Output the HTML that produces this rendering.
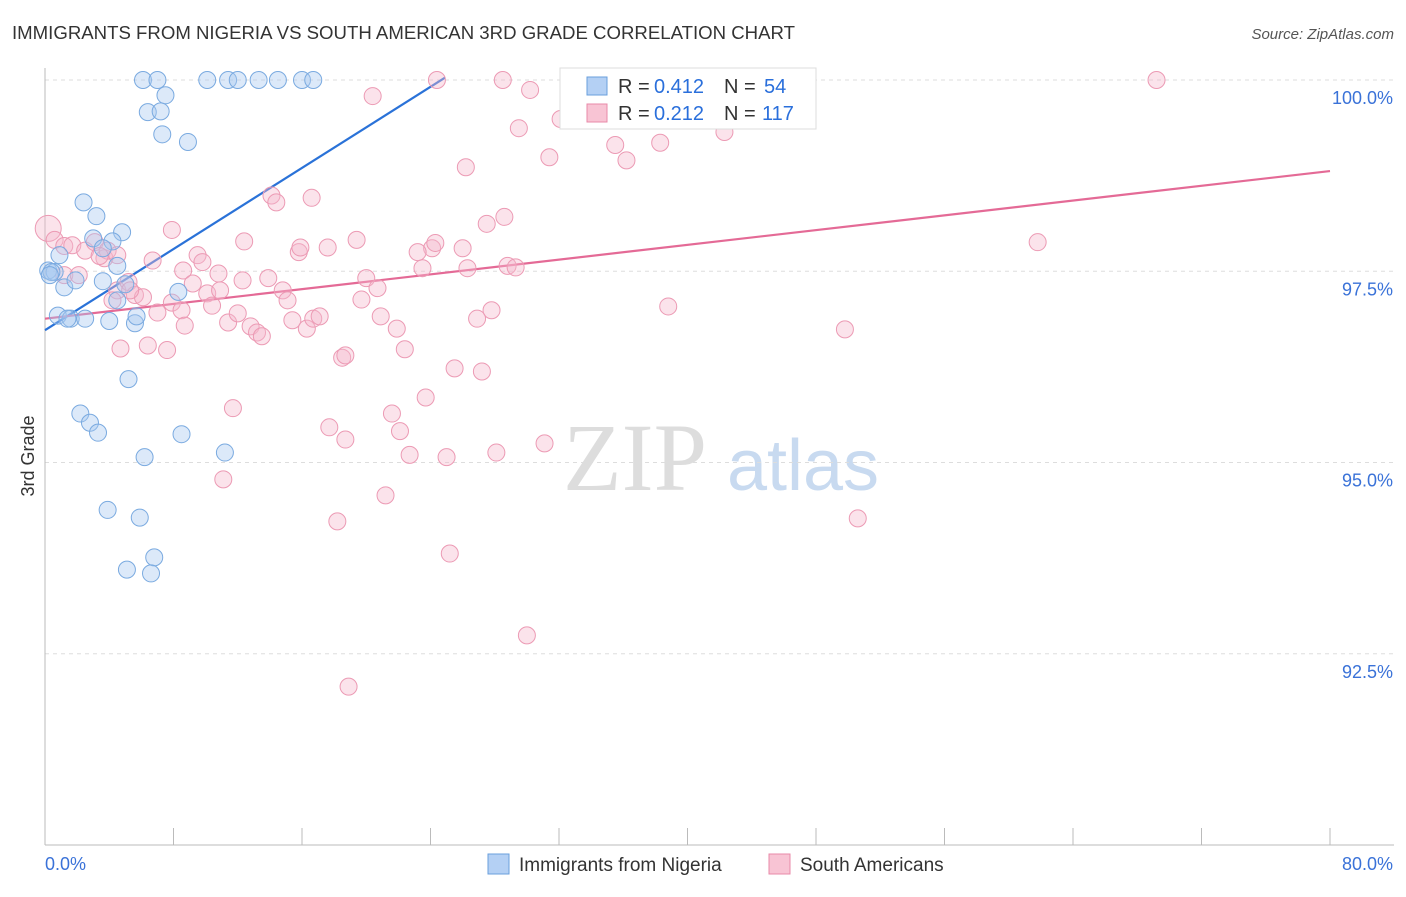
<!DOCTYPE html>
<html><head><meta charset="utf-8"><style>
body{margin:0;background:#fff;font-family:"Liberation Sans",sans-serif;}
</style></head><body>
<svg id="chart" width="1406" height="892" xmlns="http://www.w3.org/2000/svg" font-family="Liberation Sans, sans-serif">
<text x="12" y="39" font-size="18" fill="#333" textLength="783" lengthAdjust="spacingAndGlyphs">IMMIGRANTS FROM NIGERIA VS SOUTH AMERICAN 3RD GRADE CORRELATION CHART</text>
<text x="1394" y="39" font-size="15" fill="#555" text-anchor="end" font-style="italic">Source: ZipAtlas.com</text>
<text x="34" y="456" font-size="18" fill="#333" text-anchor="middle" transform="rotate(-90 34 456)">3rd Grade</text>
<g font-size="96" text-anchor="middle">
<text x="635" y="490" fill="#ddd" font-family="Liberation Serif, serif">ZIP</text>
<text x="803" y="490" fill="#c8daf0" font-size="72">atlas</text></g>
<g id="grid"></g><g id="axes"></g><g id="lines"></g><g id="pts"></g>
<g>
<rect x="560" y="68" width="256" height="61" fill="#fff" stroke="#ddd"/>
<rect x="587" y="77" width="20" height="18" fill="#b4d0f4" stroke="#6a9fdc"/>
<text y="93" font-size="20" fill="#333"><tspan x="618">R =</tspan><tspan x="654" fill="#2a6fdb">0.412</tspan><tspan x="724">N =</tspan><tspan x="764" fill="#2a6fdb">54</tspan></text>
<rect x="587" y="104" width="20" height="18" fill="#f8c4d4" stroke="#e88aa8"/>
<text y="120" font-size="20" fill="#333"><tspan x="618">R =</tspan><tspan x="654" fill="#2a6fdb">0.212</tspan><tspan x="724">N =</tspan><tspan x="762" fill="#2a6fdb">117</tspan></text>
</g>
<g>
<rect x="488" y="854" width="21" height="20" fill="#b4d0f4" stroke="#6a9fdc"/>
<text x="519" y="871" font-size="19" fill="#333">Immigrants from Nigeria</text>
<rect x="769" y="854" width="21" height="20" fill="#f8c4d4" stroke="#e88aa8"/>
<text x="800" y="871" font-size="19" fill="#333">South Americans</text>
</g>
</svg>
<script>
const xTicks=[0,8,16,24,32,40,48,56,64,72,80];
const yTicks=[92.5,95,97.5,100];
const yTickLabels=["92.5%","95.0%","97.5%","100.0%"];
const xEndLabels=["0.0%","80.0%"];
const nigeriaX=[6.1,7.0,10.1,11.4,12.0,13.3,14.5,16.0,16.7,7.5,6.4,7.2,7.3,8.9,2.4,3.2,4.8,3.0,4.2,3.6,0.9,0.2,0.6,4.5,1.2,1.9,3.6,5.0,8.3,4.5,0.8,1.6,2.5,4.0,5.6,5.7,5.2,2.2,2.8,3.3,8.5,6.2,11.2,3.9,5.9,6.8,5.1,6.6,0.4,1.4,0.3];
const nigeriaY=[100,100,100,100,100,100,100,100,100,99.8,99.58,99.59,99.29,99.19,98.4,98.22,98.01,97.93,97.89,97.8,97.71,97.51,97.49,97.57,97.29,97.38,97.37,97.33,97.23,97.12,96.92,96.88,96.88,96.85,96.82,96.91,96.09,95.64,95.52,95.39,95.37,95.07,95.13,94.38,94.28,93.76,93.6,93.55,97.49,96.88,97.45];
const southX=[0.2,0.6,1.2,1.7,2.5,3.1,3.7,3.9,4.5,1.2,2.1,4.5,5.2,5.6,6.1,4.7,6.4,7.6,7.0,7.9,6.7,8.6,9.2,9.5,9.8,10.1,10.4,10.8,11.4,12.0,12.3,12.4,12.8,13.2,13.5,13.9,14.1,14.4,14.8,15.1,15.4,15.8,15.9,16.3,16.6,16.7,17.1,17.6,18.5,19.4,19.7,20.0,20.4,20.7,20.9,21.9,22.4,23.5,24.1,24.3,23.2,26.0,26.3,26.9,27.5,27.8,28.6,28.8,29.3,29.5,28.5,30.2,31.4,24.4,26.2,32.1,32.6,35.5,36.2,35.8,38.3,40.3,42.2,42.3,38.8,49.8,61.8,69.2,11.7,11.1,17.7,18.7,18.2,21.2,21.6,22.1,22.7,23.7,25.0,25.2,25.5,27.2,28.1,31.1,30.0,18.9,50.6,7.9,8.5,4.2,8.7,5.3,3.4,10.9,18.7];
const southY=[98.06,97.91,97.83,97.84,97.77,97.88,97.67,97.77,97.71,97.45,97.45,97.25,97.36,97.19,97.16,96.49,96.53,96.47,96.96,98.04,97.64,97.51,97.34,97.71,97.62,97.21,97.05,97.47,96.83,96.95,97.38,97.89,96.78,96.7,96.65,97.41,98.49,98.4,97.25,97.12,96.86,97.75,97.81,96.75,98.46,96.88,96.91,97.81,96.37,97.91,97.13,97.41,99.79,97.28,96.91,96.75,96.48,97.54,97.8,97.87,97.75,97.8,97.54,96.88,98.12,96.99,98.21,97.57,97.55,99.37,100,99.87,98.99,100,98.86,99.49,100,99.15,98.95,100,99.18,100,100,99.32,97.04,96.74,97.88,100,95.71,94.78,95.46,95.3,94.23,94.57,95.64,95.41,95.1,95.85,95.07,93.81,96.23,96.19,95.13,95.25,92.74,92.07,94.27,97.09,96.99,97.12,96.79,97.25,97.7,97.25,96.4];
const nigeriaTrend=[0,96.73,24.9,100.03];
const southTrend=[0,96.88,80,98.81];
const NS="http://www.w3.org/2000/svg";
const X0=45,X1=1330,Y0=845,Y100=80;
const sx=v=>X0+(v/80)*(X1-X0);
const sy=v=>Y100+(100-v)*(Y0-Y100)/10;
function mk(t,a,p){const e=document.createElementNS(NS,t);for(const k in a)e.setAttribute(k,a[k]);document.getElementById(p).appendChild(e);return e;}
yTicks.forEach((v,i)=>{
 const l=mk('line',{x1:X0,x2:1394,y1:sy(v),y2:sy(v),stroke:'#ddd','stroke-dasharray':'4,4'},'grid');
 
 
 const t=mk('text',{x:1393,y:sy(v)+24,'font-size':18,fill:'#3a72d8','text-anchor':'end'},'axes');
 t.textContent=yTickLabels[i];
 
 
});
const ax=mk('line',{x1:X0,x2:X0,y1:68,y2:Y0,stroke:'#bbb'},'axes');


const bx=mk('line',{x1:X0,x2:1394,y1:Y0,y2:Y0,stroke:'#bbb'},'axes');


xTicks.forEach(v=>{const t=mk('line',{x1:sx(v),x2:sx(v),y1:Y0,y2:Y0-17,stroke:'#bbb'},'axes');
 
 });
const l0=mk('text',{x:45,y:870,'font-size':18,fill:'#3a72d8'},'axes');l0.textContent=xEndLabels[0];


const l1=mk('text',{x:1393,y:870,'font-size':18,fill:'#3a72d8','text-anchor':'end'},'axes');l1.textContent=xEndLabels[1];


southX.forEach((x,i)=>{const c=mk('circle',{cx:sx(x),cy:sy(southY[i]),r:i==0?13:8.5,fill:'#f5b8cc','fill-opacity':0.4,stroke:'#ec9ab4','stroke-width':1},'pts');
 
 });
nigeriaX.forEach((x,i)=>{const c=mk('circle',{cx:sx(x),cy:sy(nigeriaY[i]),r:8.5,fill:'#a8c8f0','fill-opacity':0.4,stroke:'#7aaae0','stroke-width':1},'pts');
 
 });
const tb=mk('line',{x1:sx(nigeriaTrend[0]),y1:sy(nigeriaTrend[1]),x2:sx(nigeriaTrend[2]),y2:sy(nigeriaTrend[3]),stroke:'#2a72d8','stroke-width':2.2},'lines');


const tp=mk('line',{x1:sx(southTrend[0]),y1:sy(southTrend[1]),x2:sx(southTrend[2]),y2:sy(southTrend[3]),stroke:'#e46a96','stroke-width':2.2},'lines');


</script>
</body></html>
